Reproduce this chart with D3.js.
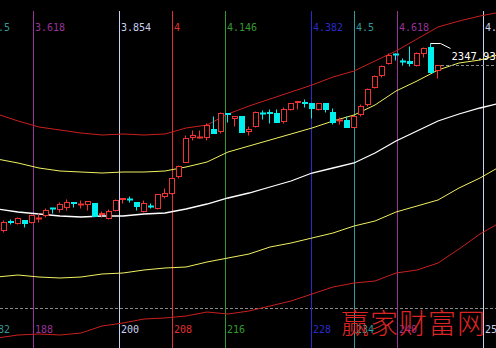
<!DOCTYPE html>
<html><head><meta charset="utf-8">
<script src="https://cdn.jsdelivr.net/npm/d3@7"></script>
<style>html,body{margin:0;padding:0;background:#000;overflow:hidden}svg{display:block}</style>
</head><body>
<script>
// ---- data (prices) ----
const openP  = [1974,1992,1988,1994,1990,1998,2004,2018,2016,2020,2030,2025.4,2026,2028,2007,1998,2014,2037,2036,2030,2012,2023,2018,2042,2048,2082,2110,2160,2159,2160,2176,2172,2208,2198,2202,2172,2182,2208,2210,2208,2192,2216,2231,2230,2228,2216,2228,2210,2193,2194,2180,2206,2226,2260,2284,2308,2326,2312,2312,2304,2328,2340,2294];
const closeP = [1990,1991,1998,1989,2004,1999,2014,2017,2026,2030,2028.4,2026,2032,2002,2008,2012,2034,2038,2035,2022,2028,2022,2046,2048,2078,2102,2158,2163,2160,2184,2168,2208,2206,2202,2170,2177,2210,2207,2209,2190,2216,2228,2232,2229,2218,2228,2216,2190,2194,2180,2202,2222,2256,2282,2302,2324,2325,2311,2308,2328,2338,2290,2304];
const highP  = [1994,1996,2000,1994,2006,2008,2018,2018,2030,2036,2030,2034,2032,2028,2012,2016,2036,2038,2042,2030,2034,2028,2046,2058,2078,2104,2164,2174,2174,2188,2202,2210,2208,2202,2202,2182,2212,2214,2216,2216,2220,2228,2232,2236,2228,2228,2228,2218,2200,2202,2202,2226,2258,2284,2304,2328,2328,2318,2342,2330,2340,2347.93,2304];
const lowP   = [1970,1986,1986,1980,1988,1990,2000,2008,2010,2014,2020,2018,2014,2002,2000,1996,2012,2028,2030,2014,2010,2018,2016,2038,2046,2078,2110,2154,2158,2154,2168,2168,2190,2182,2170,2164,2180,2196,2188,2190,2188,2214,2216,2220,2198,2214,2210,2186,2186,2180,2180,2202,2222,2258,2280,2306,2314,2304,2302,2302,2320,2290,2278];

const bandIdx = [-1,2,5,8,11,14,17,20,23,26,29,32,35,38,41,44,47,50,53,56,59,62,65,68,71];
const bandUpperRed    = [2206,2192,2180,2174,2168,2164,2166,2164,2166,2178,2184,2206,2222,2236,2250,2264,2280,2292,2312,2332,2356,2380,2392,2402,2410];
const bandUpperYellow = [2116,2108,2098,2092,2090,2088,2090,2090,2092,2100,2110,2130,2142,2154,2166,2178,2192,2204,2224,2252,2272,2294,2308,2314,2326];
const bandMid         = [2016,2010,2006,2002,2000,2002,2002,2006,2008,2016,2026,2038,2048,2060,2072,2088,2098,2108,2128,2152,2172,2192,2206,2218,2228];
const bandLowerYellow = [1880,1884,1880,1878,1880,1886,1888,1894,1898,1900,1910,1918,1926,1940,1948,1958,1968,1982,1992,2010,2022,2034,2058,2078,2102];
const bandLowerRed    = [1758,1764,1766,1764,1768,1782,1788,1796,1798,1802,1810,1806,1812,1822,1832,1846,1860,1868,1872,1888,1894,1908,1936,1966,1990];

const fibRatios       = [3.5,3.618,3.854,4,4.146,4.382,4.5,4.618,4.854];
const fibTopLabels    = ["3.5","3.618","3.854","4","4.146","4.382","4.5","4.618","4.854"];
const fibBottomLabels = ["182","188","200","208","216","228","234","240","252"];
const fibColors       = ["#339999","#993399","#c8d0f0","#e03030","#339933","#2a2ac8","#339999","#993399","#c8d0f0"];
const FIB_UNIT = 52.05, FIB_OFFSET = -184.17;   // bar position = ratio*unit + offset
const maxLabel = "2347.93";
const refLevel = 1818;
const watermark = "赢家财富网";

// ---- layout ----
const W = 496, H = 348, plotTop = 11;
const svg = d3.select("body").append("svg").attr("width", W).attr("height", H)
  .style("background", "#000");

const x = d3.scaleLinear().domain([0, 62]).range([4, 438]);
const y = d3.scaleLinear().domain([1738, 2414]).range([348, 10]);
const cy = v => Math.round(y(v)) + 0.5;
const cx = i => Math.round(x(i));

// reference dashed horizontal line
svg.append("line").attr("x1", 0).attr("x2", W).attr("y1", cy(refLevel)).attr("y2", cy(refLevel))
  .attr("stroke", "#8a8a8a").attr("stroke-dasharray", "3,2");

// fibonacci time lines
fibRatios.forEach((r, k) => {
  const xp = Math.round(x(r * FIB_UNIT + FIB_OFFSET)) + 0.5;
  svg.append("line").attr("x1", xp).attr("x2", xp).attr("y1", plotTop).attr("y2", H)
    .attr("stroke", fibColors[k]).attr("stroke-width", 1);
  svg.append("text").attr("x", xp + 1.5).attr("y", 31).text(fibTopLabels[k])
    .attr("fill", fibColors[k]).attr("font-family", "DejaVu Sans Mono").attr("font-size", 10);
  svg.append("text").attr("x", xp + 1.5).attr("y", 333).text(fibBottomLabels[k])
    .attr("fill", fibColors[k]).attr("font-family", "DejaVu Sans Mono").attr("font-size", 10);
});

// bands
const bands = [
  [bandLowerRed, "#c82020", 1],
  [bandLowerYellow, "#f0f060", 1],
  [bandMid, "#ffffff", 1.3],
  [bandUpperYellow, "#f0f060", 1],
  [bandUpperRed, "#c82020", 1]
];
const line = d3.line().x(d => x(d[0])).y(d => y(d[1]));
bands.forEach(([vals, col, sw]) => {
  svg.append("path").datum(bandIdx.map((b, i) => [b, vals[i]]))
    .attr("d", line).attr("fill", "none").attr("stroke", col).attr("stroke-width", sw);
});

// candles
const RED = "#f03232", CYAN = "#00f0f0";
openP.forEach((o, i) => {
  const c = closeP[i], hi = highP[i], lo = lowP[i];
  const xc = cx(i);
  const up = c >= o;
  const col = up ? RED : CYAN;
  const g = svg.append("g");
  g.append("line").attr("x1", xc - 0.5).attr("x2", xc - 0.5).attr("y1", cy(hi)).attr("y2", cy(lo))
    .attr("stroke", col);
  const yt = cy(Math.max(o, c)), yb = cy(Math.min(o, c));
  if (yb - yt < 1) {
    g.append("line").attr("x1", xc - 3).attr("x2", xc + 3).attr("y1", yt).attr("y2", yt)
      .attr("stroke", col).attr("stroke-width", up ? 2 : 2);
  } else if (up) {
    g.append("rect").attr("x", xc - 2.5).attr("y", yt).attr("width", 5).attr("height", yb - yt)
      .attr("fill", "#000").attr("stroke", col);
  } else {
    g.append("rect").attr("x", xc - 3).attr("y", yt - 0.5).attr("width", 6).attr("height", yb - yt + 1)
      .attr("fill", col);
  }
});

// last close dashed line
const lastI = closeP.length - 1;
svg.append("line").attr("x1", cx(lastI) + 3).attr("x2", W)
  .attr("y1", cy(closeP[lastI])).attr("y2", cy(closeP[lastI]))
  .attr("stroke", "#8a8a8a").attr("stroke-dasharray", "3,2");

// max price marker
const maxI = highP.indexOf(d3.max(highP));
const mx = cx(maxI) - 0.5, my = cy(highP[maxI]);
svg.append("path").attr("d", `M${mx},${my}H${mx + 10}L${mx + 20},${my + 5}`)
  .attr("fill", "none").attr("stroke", "#ffffff");
svg.append("text").attr("x", mx + 21).attr("y", my + 16).text(maxLabel)
  .attr("fill", "#ffffff").attr("font-family", "DejaVu Sans Mono").attr("font-size", 10.5);

// watermark
svg.append("text").attr("x", 341).attr("y", 334).text(watermark)
  .attr("fill", "#dd2424").attr("font-family", "Noto Sans CJK SC").attr("font-weight", 300)
  .attr("font-size", 28).attr("letter-spacing", 1);
</script>
</body></html>
